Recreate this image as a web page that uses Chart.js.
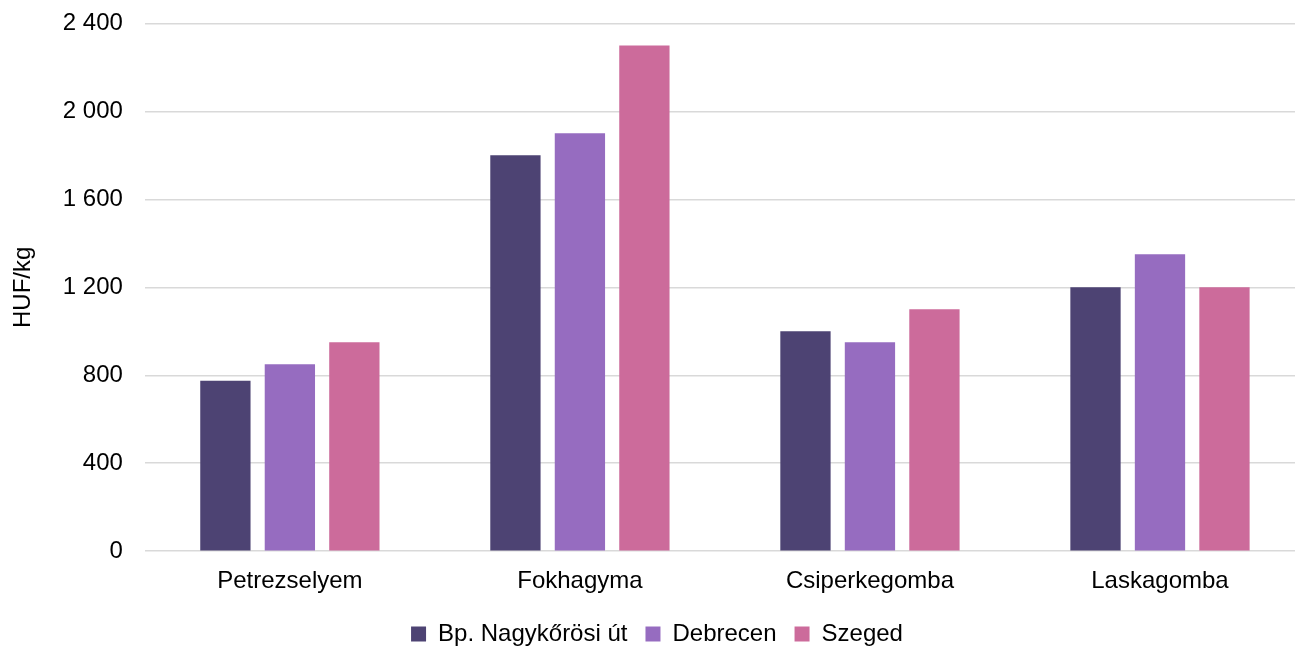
<!DOCTYPE html>
<html>
<head>
<meta charset="utf-8">
<script src="https://cdn.jsdelivr.net/npm/chart.js@4/dist/chart.umd.min.js"></script>
<style>
  html, body { margin: 0; padding: 0; background: #fff; overflow: hidden; }
  #wrap { width: 1305px; height: 669px; margin-top: -13px; position: relative; }
</style>
</head>
<body>
<div id="wrap"><canvas id="chart"></canvas></div>
<script>
// --- adatok ---
const categories = ['Petrezselyem', 'Fokhagyma', 'Csiperkegomba', 'Laskagomba'];
const seriesNames = ['Bp. Nagykőrösi út', 'Debrecen', 'Szeged'];
const bpValues = [775, 1800, 1000, 1200];
const debrecenValues = [850, 1900, 950, 1350];
const szegedValues = [950, 2300, 1100, 1200];
const yTicks = [0, 400, 800, 1200, 1600, 2000, 2400];
const colors = ['#4d4373', '#966cc0', '#cc6b9b'];

const FONT = 'Liberation Sans, Arial, sans-serif';
Chart.defaults.font.family = FONT;
Chart.defaults.font.size = 24;
Chart.defaults.color = '#000';

const allValues = [bpValues, debrecenValues, szegedValues];

new Chart(document.getElementById('chart'), {
    type: 'bar',
    data: {
        labels: categories,
        datasets: seriesNames.map((name, i) => ({
            label: name,
            data: allValues[i],
            backgroundColor: colors[i],
            borderWidth: 0,
            categoryPercentage: 0.667,
            barPercentage: 0.78
        }))
    },
    options: {
        responsive: true,
        maintainAspectRatio: false,
        animation: false,
        layout: { padding: { top: 0, left: 9, right: 0, bottom: 0 } },
        plugins: {
            legend: {
                position: 'bottom',
                labels: { boxWidth: 15, boxHeight: 15, padding: 18, font: { size: 24 } }
            },
            tooltip: { enabled: false }
        },
        scales: {
            x: {
                grid: { display: false },
                border: { display: false },
                ticks: { padding: 8 }
            },
            y: {
                min: 0,
                max: 2400,
                afterBuildTicks: axis => { axis.ticks = yTicks.map(v => ({ value: v })); },
                grid: { color: '#d9d9d9', lineWidth: 1.5, drawTicks: false },
                border: { display: false },
                ticks: {
                    padding: 22,
                    callback: v => String(v).replace(/\B(?=(\d{3})+(?!\d))/g, ' ')
                },
                title: { display: true, text: 'HUF/kg', font: { size: 24 }, padding: { top: 0, bottom: 3 } }
            }
        }
    }
});
</script>
</body>
</html>
